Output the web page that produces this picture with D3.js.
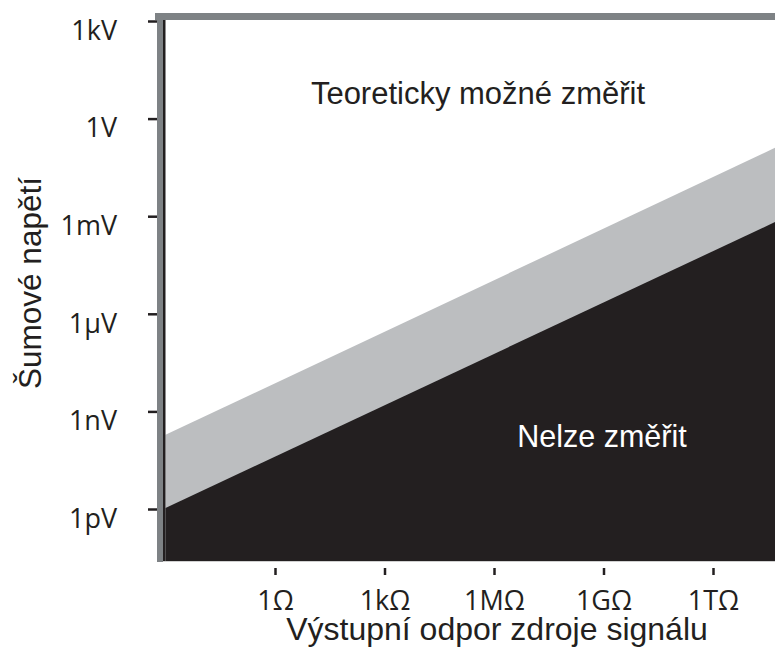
<!DOCTYPE html>
<html>
<head>
<meta charset="utf-8">
<script src="https://cdn.jsdelivr.net/npm/d3@7"></script>
<style>
  body { margin: 0; background: #fff; }
  svg { display: block; }
</style>
</head>
<body>
<div class="chart"></div>
<script>
// values
const yTickValues = [1e3, 1, 1e-3, 1e-6, 1e-9, 1e-12];
const yTickLabels = ["1kV", "1V", "1mV", "1\u00b5V", "1nV", "1pV"];
const xTickValues = [1, 1e3, 1e6, 1e9, 1e12];
const xTickLabels = ["1\u03a9", "1k\u03a9", "1M\u03a9", "1G\u03a9", "1T\u03a9"];

// band edges: resistance (ohm) -> voltage (V)
const resistance = [1e-3, 5e13];
const measurableLimit = [1.9e-10, 0.126];
const thermalLimit = [1.07e-12, 6.6e-4];

var width = 775, height = 653;
var plot = {left: 165, right: 775, top: 20, bottom: 561};
var frameColor = "#7e8285", ink = "#231f20", band = "#bcbec0";

const svg = d3.select(".chart").append("svg")
    .attr("width", width)
    .attr("height", height);

var x = d3.scaleLog().domain([1, 1e12]).range([275, 713]);
var y = d3.scaleLog().domain([1e-12, 1e3]).range([509, 21]);

svg.append("clipPath")
    .attr("id", "plot-clip")
  .append("rect")
    .attr("x", plot.left)
    .attr("y", plot.top)
    .attr("width", plot.right - plot.left)
    .attr("height", plot.bottom - plot.top);

var g = svg.append("g").attr("clip-path", "url(#plot-clip)");

function bandArea(limit) {
  return d3.area()
    .x((d, i) => x(resistance[i]))
    .y0(plot.bottom)
    .y1((d) => y(d))(limit);
}

g.append("path").attr("d", bandArea(measurableLimit)).attr("fill", band);
g.append("path").attr("d", bandArea(thermalLimit)).attr("fill", ink);

// frame
svg.append("rect")
    .attr("x", 157).attr("y", 13)
    .attr("width", 6).attr("height", 549)
    .attr("fill", frameColor);
svg.append("rect")
    .attr("x", 155).attr("y", 13)
    .attr("width", 620).attr("height", 7)
    .attr("fill", frameColor);
svg.append("rect")
    .attr("x", 163).attr("y", 20)
    .attr("width", 2.5).attr("height", plot.bottom - 20)
    .attr("fill", ink);
svg.append("line")
    .attr("x1", 163).attr("x2", plot.right)
    .attr("y1", plot.bottom + 0.5).attr("y2", plot.bottom + 0.5)
    .attr("stroke", "#d0d0d0");

// y axis
var yAxis = svg.append("g")
    .attr("transform", "translate(157,0)")
    .call(d3.axisLeft(y)
      .tickValues(yTickValues)
      .tickFormat((d, i) => yTickLabels[i])
      .tickSize(9)
      .tickPadding(31));
yAxis.select(".domain").remove();
yAxis.selectAll(".tick line").attr("stroke", ink).attr("stroke-width", 2.5);
yAxis.selectAll(".tick text")
    .attr("dy", "0.68em")
    .attr("font-family", "'Open Sans', sans-serif")
    .attr("font-size", 27)
    .attr("fill", ink);

// x axis
var xAxis = svg.append("g")
    .attr("transform", "translate(0,568)")
    .call(d3.axisBottom(x)
      .tickValues(xTickValues)
      .tickFormat((d, i) => xTickLabels[i])
      .tickSize(7)
      .tickPadding(16));
xAxis.select(".domain").remove();
xAxis.selectAll(".tick line").attr("stroke", ink).attr("stroke-width", 2.5);
xAxis.selectAll(".tick text")
    .attr("font-family", "'Open Sans', sans-serif")
    .attr("font-size", 27)
    .attr("fill", ink);

// titles
svg.append("text")
    .attr("x", 497).attr("y", 640)
    .attr("text-anchor", "middle")
    .attr("font-family", "'Liberation Sans', Arial, sans-serif")
    .attr("font-size", 32)
    .attr("fill", ink)
    .text("Výstupní odpor zdroje signálu");

svg.append("text")
    .attr("transform", "translate(41,283) rotate(-90)")
    .attr("text-anchor", "middle")
    .attr("font-family", "'Liberation Sans', Arial, sans-serif")
    .attr("font-size", 31.5)
    .attr("fill", ink)
    .text("Šumové napětí");

svg.append("text")
    .attr("x", 478).attr("y", 104)
    .attr("text-anchor", "middle")
    .attr("font-family", "'Liberation Sans', Arial, sans-serif")
    .attr("font-size", 31)
    .attr("fill", ink)
    .text("Teoreticky možné změřit");

svg.append("text")
    .attr("x", 602).attr("y", 447)
    .attr("text-anchor", "middle")
    .attr("font-family", "'Liberation Sans', Arial, sans-serif")
    .attr("font-size", 30.5)
    .attr("fill", "#fff")
    .text("Nelze změřit");
</script>
</body>
</html>
